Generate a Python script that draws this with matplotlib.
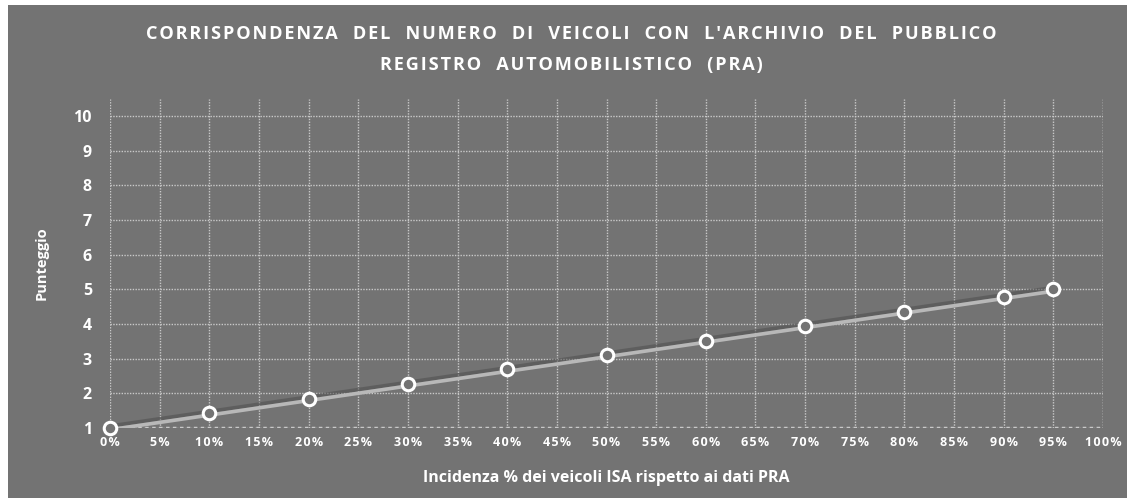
import numpy as np
import matplotlib
matplotlib.use("Agg")
import matplotlib.pyplot as plt
import matplotlib.patheffects as pe

# data
incidenza = [0, 10, 20, 30, 40, 50, 60, 70, 80, 90, 95]
punteggio = [1.0, 1.42, 1.84, 2.27, 2.69, 3.1, 3.52, 3.94, 4.36, 4.79, 5.0]
x_ticks = list(range(0, 101, 5))
x_labels = ['%d%%' % v for v in x_ticks]
y_ticks = list(range(1, 11))
title_lines = ["CORRISPONDENZA  DEL  NUMERO  DI  VEICOLI  CON  L'ARCHIVIO  DEL  PUBBLICO",
               "REGISTRO  AUTOMOBILISTICO  (PRA)"]

BG = '#737373'
FG = 'white'
GRID = '#c9c9c9'
HAIR = '\u200a'


def spaced(s):
    # fake the letter spacing of the original
    return HAIR.join(s)


def main():
    plt.rcParams['font.family'] = ['Open Sans', 'DejaVu Sans']
    fig = plt.figure(figsize=(11.27, 4.98), dpi=100)
    fig.patch.set_facecolor('white')
    # gray panel with a thin white margin top/left
    fig.patches.append(plt.Rectangle((8 / 1127, 0), 1, 1 - 5 / 498,
                                     transform=fig.transFigure,
                                     facecolor=BG, edgecolor='none', zorder=-10))

    ax = fig.add_axes([110 / 1127, 1 - 428 / 498, (1103 - 110) / 1127, (428 - 99) / 498])
    ax.patch.set_alpha(0)

    # trendline (linear fit of the points)
    m, q = np.polyfit(incidenza, punteggio, 1)
    tx = np.array([incidenza[0], incidenza[-1]])
    ax.plot(tx, m * tx + q - 0.05, color='#b8b8b8', lw=2.6, solid_capstyle='butt', zorder=3,
            path_effects=[pe.SimpleLineShadow(offset=(-1, 2.5), shadow_color='#4a4a4a', alpha=0.5),
                          pe.Normal()])

    ax.plot(incidenza, punteggio, ls='none', marker='o', ms=9, mew=2.2,
            mec='white', mfc=BG, zorder=5, clip_on=False)

    ax.set_xlim(0, 100)
    ax.set_ylim(1, 10.49)
    ax.set_xticks(x_ticks, [spaced(l) for l in x_labels])
    ax.set_yticks(y_ticks)
    ax.grid(True, color=GRID, ls=(0, (1, 1)), lw=1)
    ax.axvline(100, color=GRID, ls=(0, (1, 1)), lw=1)
    ax.axhline(1, color=GRID, ls=(0, (1, 1)), lw=2.5, zorder=2)
    for s in ax.spines.values():
        s.set_visible(False)
    ax.tick_params(length=0, colors=FG)
    ax.tick_params(axis='x', labelsize=9, pad=6)
    ax.tick_params(axis='y', labelsize=11.5, pad=13)
    for lab in ax.get_xticklabels() + ax.get_yticklabels():
        lab.set_fontweight('bold')

    ax.set_xlabel('Incidenza % dei veicoli ISA rispetto ai dati PRA',
                  fontsize=11.5, fontweight='bold', color=FG, labelpad=15)
    ax.set_ylabel('Punteggio', fontsize=10.5, fontweight='bold', color=FG, labelpad=18)

    for yy, line in zip([34, 65], title_lines):
        fig.text(571 / 1127, 1 - yy / 498, spaced(line),
                 ha='center', va='center', fontsize=13.1, fontweight='bold', color=FG)

    fig.savefig('out.png', dpi=100, facecolor=fig.get_facecolor())


if __name__ == '__main__':
    main()
